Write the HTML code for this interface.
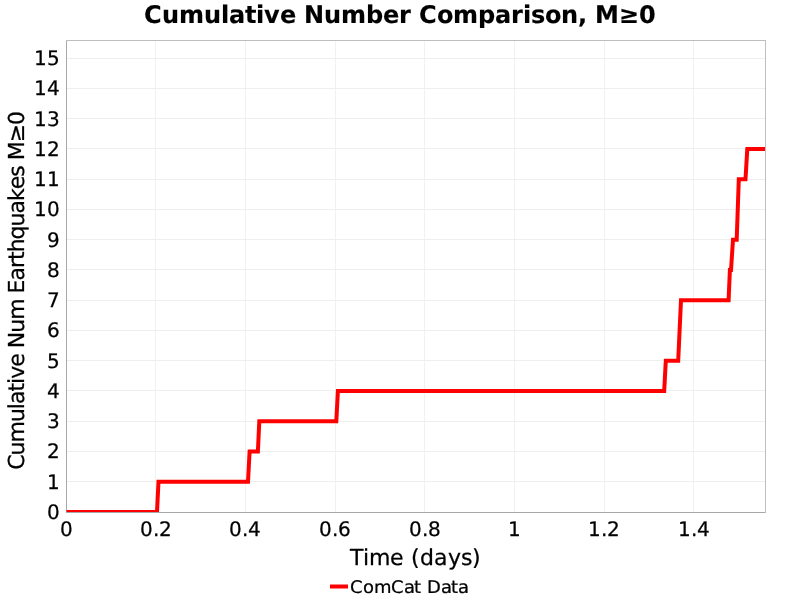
<!DOCTYPE html>
<html>
<head>
<meta charset="utf-8">
<title>Cumulative Number Comparison</title>
<style>
html,body{margin:0;padding:0;background:#fff;}
body{width:800px;height:600px;overflow:hidden;}
svg{display:block;}
text{font-family:"DejaVu Sans","Liberation Sans",sans-serif;fill:#000;white-space:pre;text-rendering:geometricPrecision;stroke:#000;stroke-width:0.25px;stroke-linejoin:round;}
text.b{stroke-width:0.15px;}
.grid line{stroke:#eeeeee;stroke-width:1;shape-rendering:crispEdges;}
.grid line.v{stroke:#f1f1f1;}
</style>
</head>
<body>
<svg width="800" height="600" viewBox="0 0 800 600">
<rect x="0" y="0" width="800" height="600" fill="#ffffff"/>
<text transform="translate(144,23) scale(1,1.01)" x="0 18 35 60 77 85 101 112 120 136 152 160 180 197 222 239 255 267 275 293 309 334 351 367 379 387 401 417 434 443 451 475 495" y="0" font-size="24" class="b" font-weight="bold">Cumulative Number Comparison, M≥0</text>
<g class="grid">
<line class="v" x1="155.5" y1="41" x2="155.5" y2="512"/>
<line class="v" x1="245.5" y1="41" x2="245.5" y2="512"/>
<line class="v" x1="335.5" y1="41" x2="335.5" y2="512"/>
<line class="v" x1="424.5" y1="41" x2="424.5" y2="512"/>
<line class="v" x1="514.5" y1="41" x2="514.5" y2="512"/>
<line class="v" x1="604.5" y1="41" x2="604.5" y2="512"/>
<line class="v" x1="693.5" y1="41" x2="693.5" y2="512"/>
<line x1="67" y1="481.5" x2="765" y2="481.5"/>
<line x1="67" y1="451.5" x2="765" y2="451.5"/>
<line x1="67" y1="421.5" x2="765" y2="421.5"/>
<line x1="67" y1="390.5" x2="765" y2="390.5"/>
<line x1="67" y1="360.5" x2="765" y2="360.5"/>
<line x1="67" y1="330.5" x2="765" y2="330.5"/>
<line x1="67" y1="300.5" x2="765" y2="300.5"/>
<line x1="67" y1="269.5" x2="765" y2="269.5"/>
<line x1="67" y1="239.5" x2="765" y2="239.5"/>
<line x1="67" y1="209.5" x2="765" y2="209.5"/>
<line x1="67" y1="179.5" x2="765" y2="179.5"/>
<line x1="67" y1="148.5" x2="765" y2="148.5"/>
<line x1="67" y1="118.5" x2="765" y2="118.5"/>
<line x1="67" y1="88.5" x2="765" y2="88.5"/>
<line x1="67" y1="58.5" x2="765" y2="58.5"/>
</g>
<g shape-rendering="crispEdges">
<rect x="66.5" y="40.5" width="699" height="472" fill="none" stroke="#bebebe" stroke-width="1"/>
<path d="M66.5 41V513M66 512.5H765" fill="none" stroke="#a8a8a8" stroke-width="1"/>
</g>
<clipPath id="plotclip"><rect x="66" y="40" width="699" height="472"/></clipPath>
<g clip-path="url(#plotclip)">
<polyline points="66.5,512.00 157.0,512.00 158.5,481.74 248.0,481.74 249.6,451.49 257.9,451.49 259.3,421.23 336.3,421.23 337.9,390.98 664.2,390.98 665.8,360.72 678.2,360.72 681.0,300.21 728.6,300.21 729.9,269.95 731.0,269.95 733.0,239.70 736.7,239.70 738.8,179.18 745.5,179.18 747.3,148.93 766.0,148.93" fill="none" stroke="#ff0000" stroke-width="4" stroke-linejoin="miter" stroke-linecap="butt"/>
</g>
<g class="tick">
<text transform="translate(47,519)" x="0" y="0" font-size="20">0</text>
<text transform="translate(47,489)" x="0" y="0" font-size="20">1</text>
<text transform="translate(47,458)" x="0" y="0" font-size="20">2</text>
<text transform="translate(47,428)" x="0" y="0" font-size="20">3</text>
<text transform="translate(47,398)" x="0" y="0" font-size="20">4</text>
<text transform="translate(47,368)" x="0" y="0" font-size="20">5</text>
<text transform="translate(47,337)" x="0" y="0" font-size="20">6</text>
<text transform="translate(47,307)" x="0" y="0" font-size="20">7</text>
<text transform="translate(47,277)" x="0" y="0" font-size="20">8</text>
<text transform="translate(47,247)" x="0" y="0" font-size="20">9</text>
<text transform="translate(34,216)" x="0 13" y="0" font-size="20">10</text>
<text transform="translate(34,186)" x="0 13" y="0" font-size="20">11</text>
<text transform="translate(34,156)" x="0 13" y="0" font-size="20">12</text>
<text transform="translate(34,126)" x="0 13" y="0" font-size="20">13</text>
<text transform="translate(34,95)" x="0 13" y="0" font-size="20">14</text>
<text transform="translate(34,65)" x="0 13" y="0" font-size="20">15</text>
<text transform="translate(60,536)" x="0" y="0" font-size="20">0</text>
<text transform="translate(140,536)" x="0 13 19" y="0" font-size="20">0.2</text>
<text transform="translate(229,536)" x="0 13 19" y="0" font-size="20">0.4</text>
<text transform="translate(319,536)" x="0 13 19" y="0" font-size="20">0.6</text>
<text transform="translate(409,536)" x="0 13 19" y="0" font-size="20">0.8</text>
<text transform="translate(508,536)" x="0" y="0" font-size="20">1</text>
<text transform="translate(588,536)" x="0 13 19" y="0" font-size="20">1.2</text>
<text transform="translate(678,536)" x="0 13 19" y="0" font-size="20">1.4</text>
</g>
<text transform="translate(24,469.8) rotate(-90) translate(0,0)" x="0 14.36 27.3 47.74 60.68 65.79 78.27 85.9 91.01 103.03 115.57 121.56 137.02 149.96 170.39 176.38 189.28 201.76 209.81 217.44 230.38 243.34 256.29 268.77 280.51 293.04 303.51 309.5 327.48 344.91" y="0" font-size="22">Cumulative Num Earthquakes M≥0</text>
<text transform="translate(350,565)" x="0 13 19 40 54 61 70 84 98 111 122" y="0" font-size="22">Time (days)</text>
<line x1="330" y1="586.5" x2="348" y2="586.5" stroke="#ff0000" stroke-width="4"/>
<text transform="translate(350,592.8) scale(1,0.965)" x="0 13 24 41 54 64 71 77 91 101 108" y="0" font-size="18">ComCat Data</text>
</svg>
</body>
</html>
